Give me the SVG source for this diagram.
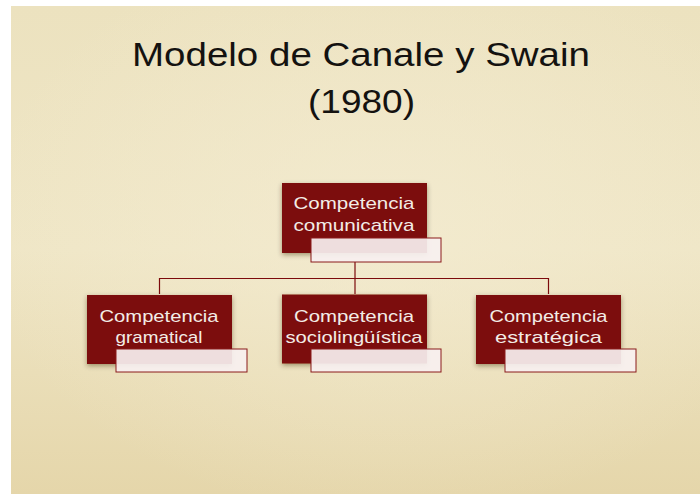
<svg xmlns="http://www.w3.org/2000/svg" width="700" height="494" viewBox="0 0 700 494">
<style>
.title{font-family:"Liberation Sans",Arial,sans-serif;font-size:32.5px;fill:#141210;text-anchor:middle}
.lbl{font-family:"Liberation Sans",Arial,sans-serif;font-size:17px;fill:#f3ece6;text-anchor:middle}
.box{fill:#7c0a0c}
.tag{fill:#f7f0f0;fill-opacity:0.92;stroke:#8a1a1a;stroke-width:1}
.conn{fill:none;stroke:#7c0a0c;stroke-width:1.2}
</style>
<defs>
<linearGradient id="bg" x1="0" y1="0" x2="0" y2="1">
<stop offset="0" stop-color="#ece2bf"/>
<stop offset="0.5" stop-color="#efe6c6"/>
<stop offset="1" stop-color="#e5d6aa"/>
</linearGradient>
<radialGradient id="glow" cx="0.55" cy="0.45" r="0.6">
<stop offset="0" stop-color="#f4ecd2" stop-opacity="0.7"/>
<stop offset="1" stop-color="#f4ecd2" stop-opacity="0"/>
</radialGradient>
<filter id="sh" x="-20%" y="-20%" width="140%" height="150%">
<feDropShadow dx="0" dy="2" stdDeviation="2.5" flood-color="#3a2a10" flood-opacity="0.45"/>
</filter>
</defs>
<rect x="0" y="0" width="700" height="494" fill="#ffffff"/>
<rect x="11" y="6" width="689" height="488" fill="url(#bg)"/>
<rect x="11" y="6" width="689" height="488" fill="url(#glow)"/>

<text class="title" x="361" y="66" textLength="458" lengthAdjust="spacingAndGlyphs">Modelo de Canale y Swain</text>
<text class="title" x="361.5" y="113" textLength="107" lengthAdjust="spacingAndGlyphs">(1980)</text>

<g id="connectors">
<path class="conn" d="M355 262 V294"/>
<path class="conn" d="M159.5 294 V278.5 H548.5 V294"/>
</g>

<g id="n-comunicativa">
<rect class="box" x="282" y="183" width="145" height="70" filter="url(#sh)"/>
<text class="lbl" x="354" y="209" textLength="121" lengthAdjust="spacingAndGlyphs">Competencia</text>
<text class="lbl" x="354" y="230.5" textLength="121" lengthAdjust="spacingAndGlyphs">comunicativa</text>
<rect class="tag" x="311" y="238" width="130" height="24"/>
</g>

<g id="n-gramatical">
<rect class="box" x="87" y="295" width="145" height="69" filter="url(#sh)"/>
<text class="lbl" x="159" y="321.5" textLength="119" lengthAdjust="spacingAndGlyphs">Competencia</text>
<text class="lbl" x="159" y="343" textLength="87" lengthAdjust="spacingAndGlyphs">gramatical</text>
<rect class="tag" x="116" y="349" width="131" height="23"/>
</g>

<g id="n-sociolinguistica">
<rect class="box" x="282" y="294.5" width="145" height="69" filter="url(#sh)"/>
<text class="lbl" x="354" y="321.5" textLength="120" lengthAdjust="spacingAndGlyphs">Competencia</text>
<text class="lbl" x="354" y="343" textLength="137" lengthAdjust="spacingAndGlyphs">sociolingüística</text>
<rect class="tag" x="311" y="349" width="130" height="23"/>
</g>

<g id="n-estrategica">
<rect class="box" x="476" y="295" width="145" height="69" filter="url(#sh)"/>
<text class="lbl" x="548.5" y="321.5" textLength="118" lengthAdjust="spacingAndGlyphs">Competencia</text>
<text class="lbl" x="548.5" y="343" textLength="107" lengthAdjust="spacingAndGlyphs">estratégica</text>
<rect class="tag" x="505" y="349" width="131" height="23"/>
</g>
</svg>
